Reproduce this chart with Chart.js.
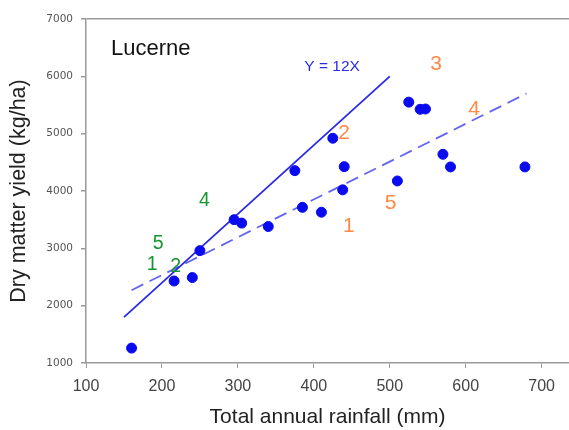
<!DOCTYPE html>
<html>
<head>
<meta charset="utf-8">
<script src="https://cdn.jsdelivr.net/npm/chart.js@4.4.1/dist/chart.umd.min.js"></script>
<style>
  html, body { margin: 0; padding: 0; background: #fff; }
  canvas { display: block; }
</style>
</head>
<body>
<canvas id="chart" width="569" height="430"></canvas>
<script>
// Lucerne: dry matter yield vs total annual rainfall
const rainfall = [160, 216, 240, 250, 295, 305, 340, 375, 385, 410, 425, 440, 438, 525, 540, 547, 570, 580, 510, 678];
const yieldKg = [1260, 2430, 2490, 2960, 3500, 3440, 3380, 4355, 3715, 3630, 4920, 4425, 4020, 5550, 5425, 5430, 4640, 4420, 4175, 4420];

// Y = 12X boundary line (solid)
const boundX = [150, 500];
const boundY = [1800, 6000];

// fitted line (dashed)
const fitX = [160, 680];
const fitY = [2270, 5700];

const xTicks = [100, 200, 300, 400, 500, 600, 700];
const yTicks = [1000, 2000, 3000, 4000, 5000, 6000, 7000];

// site numbers
const greenLabels = ['4', '5', '1', '2'];
const greenX = [256, 195, 187, 218];
const greenY = [3834, 3074, 2713, 2673];
const orangeLabels = ['3', '2', '4', '5', '1'];
const orangeX = [561, 440, 611, 501, 446];
const orangeY = [6216, 5008, 5432, 3788, 3381];

const AXIS_GREY = '#9a9a9a';
const BLUE = '#0a0aee';
const GREEN = '#15962f';
const ORANGE = '#ff8a45';
const FONT = "'Liberation Sans', Arial, sans-serif";

const toPoints = (xs, ys) => xs.map((x, i) => ({ x, y: ys[i] }));

// draws the free text (panel name, equation, site numbers) at data coordinates
const textLabels = {
  id: 'textLabels',
  afterDatasetsDraw(chart) {
    const { ctx, scales: { x, y } } = chart;
    const put = (text, vx, vy, color, size, align) => {
      ctx.fillStyle = color;
      ctx.font = `${size}px ${FONT}`;
      ctx.textAlign = align || 'center';
      ctx.textBaseline = 'middle';
      ctx.fillText(text, x.getPixelForValue(vx), y.getPixelForValue(vy));
    };
    ctx.save();
    put('Lucerne', 133, 6470, '#111', 22, 'left');
    put('Y = 12X', 424, 6160, '#2a2ae6', 15.5);
    greenLabels.forEach((t, i) => put(t, greenX[i], greenY[i], GREEN, 19.5));
    orangeLabels.forEach((t, i) => put(t, orangeX[i], orangeY[i], ORANGE, 21));
    ctx.restore();
  }
};

new Chart(document.getElementById('chart'), {
  type: 'scatter',
  data: {
    datasets: [
      {
        label: 'Sites',
        data: toPoints(rainfall, yieldKg),
        backgroundColor: BLUE,
        borderColor: BLUE,
        pointRadius: 5,
        pointHoverRadius: 5,
        order: 1,
      },
      {
        label: 'Y = 12X',
        type: 'line',
        data: toPoints(boundX, boundY),
        borderColor: '#2a2ae6',
        borderWidth: 1.8,
        pointRadius: 0,
        fill: false,
        order: 2,
      },
      {
        label: 'Fit',
        type: 'line',
        data: toPoints(fitX, fitY),
        borderColor: '#6464f2',
        borderWidth: 1.8,
        borderDash: [13, 7],
        pointRadius: 0,
        fill: false,
        order: 3,
      },
    ],
  },
  options: {
    responsive: false,
    animation: false,
    layout: { autoPadding: false, padding: { top: 19, right: 0, bottom: 0, left: 0 } },
    plugins: {
      legend: { display: false },
      tooltip: { enabled: false },
    },
    scales: {
      x: {
        type: 'linear',
        min: 100,
        max: 736,
        afterBuildTicks: (axis) => { axis.ticks = xTicks.map((v) => ({ value: v })); },
        afterFit: (axis) => {
          axis.height = 67;
          axis.paddingLeft = 0;
          axis.paddingRight = 0;
        },
        ticks: {
          color: '#444',
          font: { family: FONT, size: 16 },
          padding: 9,
          callback: (v) => String(v),
        },
        grid: { drawOnChartArea: false, tickColor: AXIS_GREY, tickLength: 5 },
        border: { color: AXIS_GREY, width: 1.5 },
        title: {
          display: true,
          text: 'Total annual rainfall (mm)',
          color: '#222',
          font: { family: FONT, size: 21 },
          padding: { top: 0, bottom: 0 },
        },
      },
      y: {
        type: 'linear',
        min: 1000,
        max: 7000,
        afterBuildTicks: (axis) => { axis.ticks = yTicks.map((v) => ({ value: v })); },
        afterFit: (axis) => { axis.width = 86; },
        ticks: {
          color: '#555',
          font: { family: "'DejaVu Sans', sans-serif", size: 10.5 },
          padding: 8,
          callback: (v) => String(v),
        },
        grid: {
          // only the 7000 line is drawn, as the top frame
          color: (c) => (c.tick && c.tick.value === 7000 ? AXIS_GREY : 'transparent'),
          lineWidth: 1.5,
          tickColor: AXIS_GREY,
          tickLength: 5,
        },
        border: { color: AXIS_GREY, width: 1.5 },
        title: {
          display: true,
          text: 'Dry matter yield (kg/ha)',
          color: '#222',
          font: { family: FONT, size: 21.5 },
          padding: { top: 6, bottom: 0 },
        },
      },
    },
  },
  plugins: [textLabels],
});
</script>
</body>
</html>
